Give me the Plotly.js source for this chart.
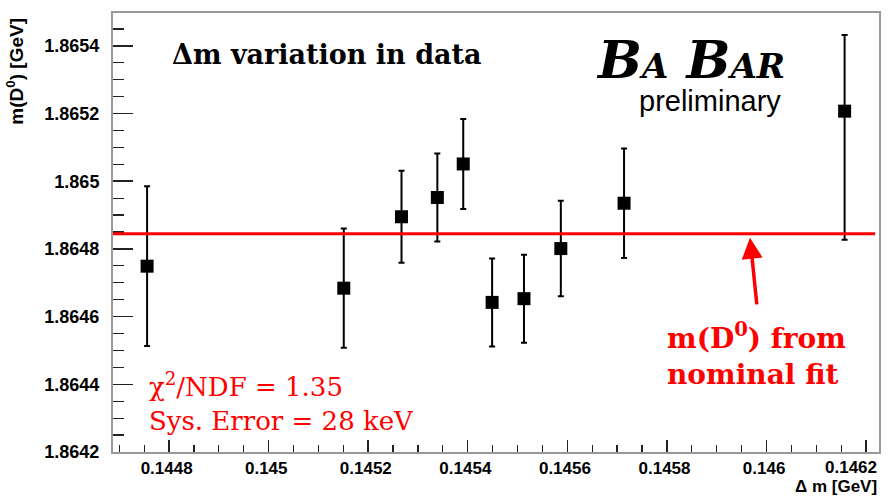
<!DOCTYPE html>
<html>
<head>
<meta charset="utf-8">
<script src="https://cdn.plot.ly/plotly-3.0.1.min.js"></script>
<style>html,body{margin:0;padding:0;background:#fff;}#chart{width:891px;height:496px;}</style>
</head>
<body>
<div id="chart"></div>
<script>
// Data
const dm       = [0.144756, 0.145151, 0.145267, 0.145339, 0.145391, 0.145449, 0.145513, 0.145587, 0.145714, 0.146157];
const mD0      = [1.864749, 1.864684, 1.864895, 1.864952, 1.865051, 1.864642, 1.864653, 1.864801, 1.864935, 1.865207];
const errPlus  = [0.000236, 0.000176, 0.000136, 0.000130, 0.000133, 0.000130, 0.000130, 0.000141, 0.000162, 0.000225];
const errMinus = [0.000236, 0.000176, 0.000136, 0.000130, 0.000133, 0.000130, 0.000130, 0.000141, 0.000162, 0.000380];
const nominalMass = 1.864845;

const xTickVals = [0.1448, 0.1450, 0.1452, 0.1454, 0.1456, 0.1458, 0.1460, 0.1462];
const xTickText = ["0.1448", "0.145", "0.1452", "0.1454", "0.1456", "0.1458", "0.146", "0.1462"];
const yTickVals = [1.8642, 1.8644, 1.8646, 1.8648, 1.8650, 1.8652, 1.8654];
const yTickText = ["1.8642", "1.8644", "1.8646", "1.8648", "1.865", "1.8652", "1.8654"];

// the last x label is drawn right-aligned to the frame (as in the reference) so it stays on the canvas
const NB = '\u00a0';
const lastIdx = xTickText.length - 1;
const xTickShown = xTickText.map((t, i) => i === lastIdx ? '' : t + NB);

const trace = {
  x: dm, y: mD0, type: 'scatter', mode: 'markers',
  marker: {symbol: 'square', size: 13, color: '#000'},
  error_y: {type: 'data', symmetric: false, array: errPlus, arrayminus: errMinus,
            color: '#000', thickness: 2, width: 3},
  hoverinfo: 'skip', showlegend: false
};

const xLabelFont = {family: 'Liberation Sans, Arial, sans-serif', size: 17, color: '#000', weight: 700};
const yLabelFont = {family: 'Liberation Sans, Arial, sans-serif', size: 18, color: '#000', weight: 700};

const layout = {
  width: 891, height: 496,
  margin: {l: 113, r: 12, t: 13, b: 44, pad: 0},
  paper_bgcolor: '#fff', plot_bgcolor: '#fff',
  showlegend: false,
  xaxis: {
    range: [0.1446875, 0.1462261], tickmode: 'array', tickvals: xTickVals, ticktext: xTickShown,
    ticks: 'inside', ticklen: 12, tickwidth: 1.5, tickcolor: '#222',
    minor: {dtick: 0.00005, tick0: 0.1448, ticks: 'inside', ticklen: 7, tickwidth: 1.2, tickcolor: '#222', showgrid: false},
    showgrid: false, zeroline: false, showline: true, mirror: true, linecolor: '#999', linewidth: 2,
    tickfont: xLabelFont, ticklabelstandoff: 0, ticklabeloverflow: 'allow'
  },
  yaxis: {
    range: [1.8642, 1.865497], tickmode: 'array', tickvals: yTickVals, ticktext: yTickText,
    ticks: 'inside', ticklen: 20, tickwidth: 1.5, tickcolor: '#222',
    minor: {dtick: 0.00005, tick0: 1.8642, ticks: 'inside', ticklen: 11, tickwidth: 1.2, tickcolor: '#222', showgrid: false},
    showgrid: false, zeroline: false, showline: true, mirror: true, linecolor: '#999', linewidth: 2,
    tickfont: yLabelFont, ticklabelstandoff: 8
  },
  shapes: [
    {type: 'line', xref: 'paper', yref: 'y', x0: 0, x1: 0.995, y0: nominalMass, y1: nominalMass,
     line: {color: '#ff0000', width: 3}}
  ],
  annotations: [
    {text: xTickText[lastIdx], xref: 'paper', yref: 'paper', x: 1.0, y: -0.0345, xanchor: 'right', yanchor: 'middle',
     showarrow: false, font: xLabelFont},
    {text: 'm(D<sup>0</sup>) [GeV]', textangle: -90, xref: 'paper', yref: 'paper',
     x: -0.128, y: 0.995, xanchor: 'center', yanchor: 'top', showarrow: false,
     font: {family: 'Liberation Sans, Arial, sans-serif', size: 19, color: '#000', weight: 700}},
    {text: 'Δ m [GeV]', xref: 'paper', yref: 'paper', x: 1.0, y: -0.079, xanchor: 'right', yanchor: 'middle',
     showarrow: false, font: {family: 'Liberation Sans, Arial, sans-serif', size: 17, color: '#000', weight: 700}},
    {text: 'Δm variation in data', xref: 'paper', yref: 'paper', x: 0.074, y: 0.905, xanchor: 'left', yanchor: 'middle',
     showarrow: false, font: {family: 'DejaVu Serif, serif', size: 27, color: '#000', weight: 700}},
    {text: '<b><i>B<span style="font-size:34px">A</span> B<span style="font-size:34px">AR</span></i></b>',
     xref: 'paper', yref: 'paper', x: 0.628, y: 0.895, xanchor: 'left', yanchor: 'middle',
     showarrow: false, font: {family: 'DejaVu Serif, serif', size: 52, color: '#000'}},
    {text: 'preliminary', xref: 'paper', yref: 'paper', x: 0.875, y: 0.80, xanchor: 'right', yanchor: 'middle',
     showarrow: false, font: {family: 'Liberation Sans, Arial, sans-serif', size: 29, color: '#000'}},
    {text: 'χ<sup>2</sup>/NDF = 1.35<br>Sys. Error = 28 keV', xref: 'paper', yref: 'paper', x: 0.045, y: 0.114,
     xanchor: 'left', yanchor: 'middle', align: 'left', showarrow: false,
     font: {family: 'DejaVu Serif, serif', size: 26, color: '#ff0000'}},
    {text: 'm(D<sup>0</sup>) from<br>nominal fit', xref: 'paper', yref: 'paper', x: 0.84, y: 0.222,
     xanchor: 'center', yanchor: 'middle', align: 'left', showarrow: false,
     font: {family: 'DejaVu Serif, serif', size: 28, color: '#ff0000', weight: 700}},
    {text: '', xref: 'paper', yref: 'paper', x: 0.8316, y: 0.488, ax: 0.8407, ay: 0.333, axref: 'paper', ayref: 'paper',
     showarrow: true, arrowhead: 2, arrowsize: 1.2, arrowwidth: 3.5, arrowcolor: '#ff0000'}
  ]
};

Plotly.newPlot('chart', [trace], layout, {displayModeBar: false, staticPlot: true});
</script>
</body>
</html>
